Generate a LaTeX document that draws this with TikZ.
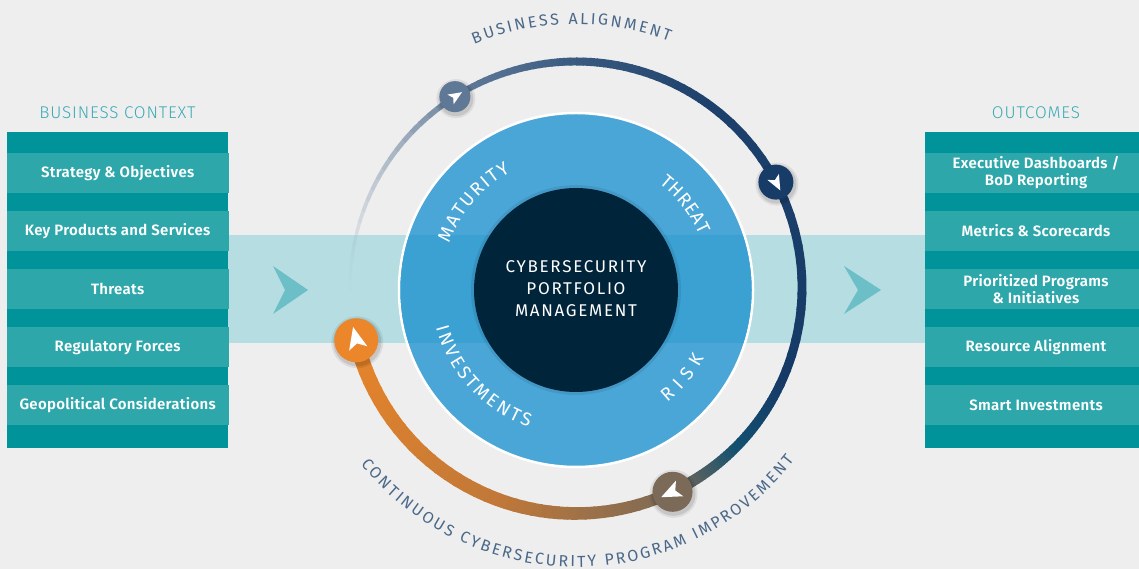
\documentclass[tikz,border=0pt]{standalone}
\usepackage{fontspec}
\setmainfont{Fira Sans}
\IfFontExistsTF{Fira Sans Light}{\newfontfamily\lightfont{Fira Sans Light}[LetterSpace=5]}{\newfontfamily\lightfont{Fira Sans}[LetterSpace=5]}
\IfFontExistsTF{Fira Sans SemiBold}{\newfontfamily\semifont{Fira Sans SemiBold}[LetterSpace=2]}{\newfontfamily\semifont{Fira Sans Bold}[LetterSpace=2]}
\newfontfamily\regfont{Fira Sans}
\newfontfamily\centerfont{Fira Sans}[LetterSpace=10]
\usetikzlibrary{decorations.text}

\definecolor{bg}{HTML}{EEEEEE}
\definecolor{bandc}{HTML}{B5DDE2}
\definecolor{ringblue}{HTML}{4AA6D7}
\definecolor{ringband}{HTML}{3BA0D2}
\definecolor{core}{HTML}{00243A}
\definecolor{tealdark}{HTML}{00939A}
\definecolor{teallight}{HTML}{2EA7AB}
\definecolor{headc}{HTML}{3AA9B5}
\definecolor{chev}{HTML}{6CBFC6}
\definecolor{slate}{HTML}{4A6889}
\definecolor{a0}{HTML}{B8C2CE}
\definecolor{a1}{HTML}{647D9A}
\definecolor{a2}{HTML}{3A5A80}
\definecolor{a3}{HTML}{1D416C}
\definecolor{a4}{HTML}{163A66}
\definecolor{a5}{HTML}{125070}
\definecolor{a6}{HTML}{7A6A58}
\definecolor{a7}{HTML}{C07838}
\definecolor{a8}{HTML}{E8842A}
\definecolor{m1}{HTML}{5F7896}
\definecolor{m2}{HTML}{173C68}
\definecolor{m3}{HTML}{7B6A57}
\definecolor{m4}{HTML}{EB862B}

\newcommand\ringfont{\regfont\fontsize{18.5}{18.5}\selectfont\color{white}}
\newcommand\outerfont{\regfont\fontsize{16}{16}\selectfont\color{slate}}

% gradient arc: start, end, col1, col2, w1, w2, op1, op2, overlap
\newcommand\arcseg[9]{%
  \foreach \k in {0,...,19}{%
    \pgfmathsetmacro\sa{#1+(#2-(#1))*\k/20}%
    \pgfmathsetmacro\ea{#1+(#2-(#1))*(\k+1+#9)/20}%
    \pgfmathtruncatemacro\pp{100-100*(\k+0.5)/20}%
    \pgfmathsetmacro\ww{#5+(#6-#5)*(\k+0.5)/20}%
    \pgfmathsetmacro\oo{#7+(#8-#7)*(\k+0.5)/20}%
    \draw[line width=\ww pt, draw=#3!\pp!#4, draw opacity=\oo]
      ([shift={(Ca)}]\sa:226pt) arc[start angle=\sa, end angle=\ea, radius=226pt];
  }}

% marker: name, angle, radius, colour, glyph scale
\newcommand\marker[5]{%
  \path ([shift={(Ca)}]#2:226pt) coordinate (#1);
  \fill[black, opacity=0.07] ([xshift=1pt,yshift=-2pt]#1) circle[radius=#3pt+4pt];
  \fill[black, opacity=0.10] ([xshift=1pt,yshift=-2pt]#1) circle[radius=#3pt+2pt];
  \fill[#4] (#1) circle[radius=#3pt];
  \fill[white, shift={(#1)}, rotate=#2-90, scale=#5]
    (1.05,0) -- (-0.65,0.72) -- (-0.25,0) -- (-0.65,-0.72) -- cycle;
}

\begin{document}
\begin{tikzpicture}[x=1pt,y=1pt,
  rowbox/.style={fill=teallight, minimum width=222pt, minimum height=40pt,
    inner sep=0pt, text=white, align=center,
    font=\semifont\fontsize{15}{17}\selectfont},
  head/.style={text=headc, font=\lightfont\fontsize{17}{17}\selectfont},
  centertext/.style={text=white, align=center,
    font=\centerfont\fontsize{17}{22}\selectfont}]

\useasboundingbox (0,0) rectangle (1139,569);
\fill[bg] (0,0) rectangle (1139,569);
\clip (0,0) rectangle (1139,569);

\coordinate (Cb) at (576,279);
\coordinate (Ca) at (576,281.5);

% band
\fill[bandc] (228,225.5) rectangle (925,334);
\fill[chev] (273,303) -- (308,279) -- (273,255) -- (285,279) -- cycle;
\fill[chev] (844,303) -- (881,279) -- (844,255) -- (858,279) -- cycle;

% blue ring and core
\node[circle, fill=ringblue, draw=white, line width=2.5pt, minimum size=354pt,
  inner sep=0pt] (ring) at (Cb) {};
\begin{scope}
  \clip (Cb) circle[radius=175.5pt];
  \fill[ringband] (228,225.5) rectangle (925,334);
\end{scope}
\fill[black, opacity=0.08] (Cb) circle[radius=105pt];
\node[circle, fill=core, minimum size=204pt, inner sep=0pt] (core) at (Cb) {};
\node[centertext] (title) at (576,280) {CYBERSECURITY\\PORTFOLIO\\MANAGEMENT};

% ring labels
\path[decorate, decoration={text along path, text={|\ringfont|MATURITY},
  text align={fit to path}}]
  ([shift={(Cb)}]160:135pt) arc[start angle=160, end angle=119, radius=135pt];
\path[decorate, decoration={text along path, text={|\ringfont|THREAT},
  text align={fit to path}}]
  ([shift={(Cb)}]52:135pt) arc[start angle=52, end angle=24, radius=135pt];
\path[decorate, decoration={text along path, text={|\ringfont|INVESTMENTS},
  text align={fit to path}}]
  ([shift={(Cb)}]195:145pt) arc[start angle=195, end angle=251, radius=145pt];
\path[decorate, decoration={text along path, text={|\ringfont|RISK},
  text align={fit to path}}]
  ([shift={(Cb)}]309:145pt) arc[start angle=309, end angle=332, radius=145pt];

% outer labels
\path[decorate, decoration={text along path, text={|\outerfont|BUSINESS ALIGNMENT},
  text align={fit to path}}]
  ([shift={(Cb)}]112.5:266pt) arc[start angle=112.5, end angle=69.5, radius=266pt];
\path[decorate, decoration={text along path,
  text={|\outerfont|CONTINUOUS CYBERSECURITY PROGRAM IMPROVEMENT},
  text align={fit to path}}]
  ([shift={(Cb)}]219:277pt) arc[start angle=219, end angle=322, radius=277pt];

% outer progress arc
\arcseg{181}{122}{a0}{a1}{2.5}{6}{0}{1}{0}
\arcseg{122}{90}{a1}{a2}{6}{8}{1}{1}{0.2}
\arcseg{90}{55}{a2}{a3}{8}{8.5}{1}{1}{0.2}
\arcseg{55}{-25}{a3}{a4}{8.5}{9}{1}{1}{0.2}
\arcseg{-25}{-45}{a4}{a5}{9}{10}{1}{1}{0.2}
\arcseg{-45}{-64.7}{a5}{a6}{10}{11.5}{1}{1}{0.2}
\arcseg{-64.7}{-110}{a6}{a7}{11.5}{13.5}{1}{1}{0.2}
\arcseg{-110}{-166.5}{a7}{a8}{13.5}{15}{1}{1}{0.2}

\marker{M1}{122.4}{15.5}{m1}{8}
\marker{M2}{27.8}{17.5}{m2}{9}
\marker{M3}{-64.7}{20}{m3}{12}
\marker{M4}{193.5}{22}{m4}{13}

% left panel
\fill[tealdark] (7,121.3) rectangle (228.3,437.3);
\node[head] (lhead) at (117.5,456.3) {BUSINESS CONTEXT};
\node[rowbox] (l1) at (117.65,396) {Strategy \& Objectives};
\node[rowbox] (l2) at (117.65,338) {Key Products and Services};
\node[rowbox] (l3) at (117.65,280) {Threats};
\node[rowbox] (l4) at (117.65,222) {Regulatory Forces};
\node[rowbox] (l5) at (117.65,164) {Geopolitical Considerations};

% right panel
\fill[tealdark] (925,121.3) rectangle (1147,437.3);
\node[head] (rhead) at (1036,456.3) {OUTCOMES};
\node[rowbox] (r1) at (1036,396) {Executive Dashboards /\\BoD Reporting};
\node[rowbox] (r2) at (1036,338) {Metrics \& Scorecards};
\node[rowbox] (r3) at (1036,280) {Prioritized Programs\\\& Initiatives};
\node[rowbox] (r4) at (1036,222) {Resource Alignment};
\node[rowbox] (r5) at (1036,164) {Smart Investments};
\end{tikzpicture}
\end{document}
